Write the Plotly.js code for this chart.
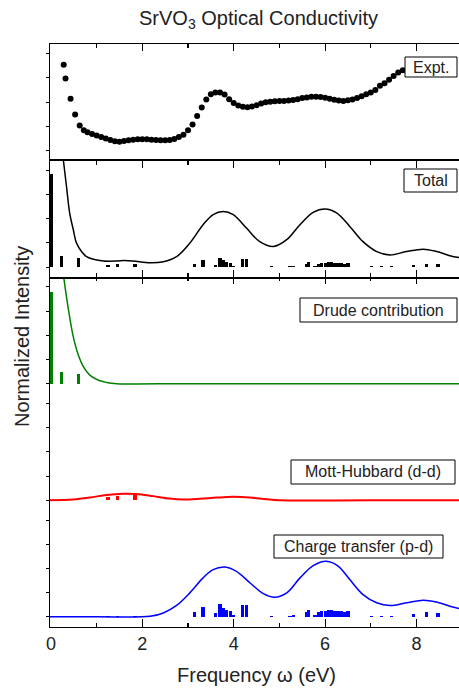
<!DOCTYPE html>
<html>
<head>
<meta charset="utf-8">
<script src="https://cdn.plot.ly/plotly-3.0.1.min.js"></script>
<style>html,body{margin:0;padding:0;background:#fff}#plot{width:459px;height:690px}</style>
</head>
<body>
<div id="plot"></div>
<script>
// ---------- data ----------
// Experimental optical conductivity (dots)
const exptX = [0.28,0.32,0.43,0.53,0.63,0.72,0.8,0.9,1.0,1.1,1.2,1.3,1.4,1.5,1.6,1.7,1.8,1.9,2.0,2.1,2.2,2.3,2.4,2.5,2.6,2.7,2.8,2.9,3.0,3.1,3.2,3.3,3.4,3.5,3.6,3.7,3.8,3.9,4.0,4.1,4.2,4.3,4.4,4.5,4.6,4.7,4.8,4.9,5.0,5.1,5.2,5.3,5.4,5.5,5.6,5.7,5.8,5.9,6.0,6.1,6.2,6.3,6.4,6.5,6.6,6.7,6.8,6.9,7.0,7.1,7.2,7.3,7.4,7.5,7.6,7.7];
const exptY = [3.54,2.97,2.14,1.49,1.03,0.83,0.75,0.68,0.62,0.56,0.49,0.43,0.38,0.36,0.39,0.42,0.44,0.46,0.46,0.46,0.44,0.43,0.42,0.42,0.43,0.47,0.56,0.65,0.83,1.07,1.42,1.78,2.11,2.32,2.40,2.39,2.31,2.12,1.96,1.86,1.81,1.79,1.82,1.87,1.94,1.99,2.01,2.03,2.04,2.04,2.06,2.08,2.12,2.17,2.19,2.22,2.22,2.21,2.18,2.14,2.10,2.06,2.04,2.07,2.11,2.17,2.24,2.32,2.40,2.50,2.67,2.78,2.92,3.08,3.22,3.32];

// Total calculated spectrum
const totalX = [0.22,0.27,0.34,0.41,0.49,0.56,0.67,0.78,0.93,1.15,1.44,1.6,1.8,2.17,2.46,2.75,3.04,3.33,3.55,3.77,3.99,4.28,4.57,4.87,5.16,5.45,5.74,6.0,6.25,6.54,6.83,7.13,7.42,7.78,8.15,8.44,8.73,8.93];
const totalY = [5.4,4.46,3.35,2.24,1.54,0.99,0.64,0.43,0.32,0.25,0.25,0.27,0.25,0.18,0.22,0.43,0.99,1.75,2.17,2.30,2.17,1.61,1.05,0.85,1.13,1.75,2.26,2.40,2.24,1.68,1.05,0.64,0.50,0.64,0.74,0.64,0.47,0.39];

// Drude contribution
const drudeX = [0.22,0.28,0.38,0.49,0.6,0.71,0.85,1.04,1.22,1.44,3.0,6.0,8.93];
const drudeY = [5.3,4.4,3.10,1.93,1.18,0.70,0.35,0.14,0.05,0.0,0.0,0.0,0.0];

// Mott-Hubbard (d-d)
const mhX = [-0.02,0.49,0.85,1.22,1.58,1.87,2.24,2.6,2.9,3.26,3.63,3.99,4.36,4.72,5.01,7.0,8.93];
const mhY = [0.0,0.03,0.11,0.22,0.27,0.26,0.17,0.07,0.03,0.06,0.11,0.14,0.11,0.04,0.0,0.0,0.0];

// Charge transfer (p-d)
const ctX = [-0.02,1.0,2.17,2.46,2.75,3.04,3.33,3.55,3.81,4.06,4.36,4.65,4.90,5.16,5.45,5.74,6.03,6.29,6.54,6.83,7.13,7.42,7.78,8.15,8.44,8.73,8.93];
const ctY = [0.0,0.0,0.02,0.16,0.47,0.99,1.61,1.95,2.06,1.88,1.40,0.96,0.81,0.99,1.61,2.12,2.30,2.09,1.54,0.92,0.58,0.47,0.58,0.69,0.61,0.44,0.34];

// transition sticks
const drudeStickE = [0.01,0.23,0.6];
const drudeStickH = [3.79,0.47,0.39];
const totalDrudeStickH = [3.83,0.45,0.36];
const mhStickE = [1.25,1.46,1.84];
const mhStickH = [0.14,0.18,0.20];
const totalMhStickH = [0.10,0.12,0.12];
const ctMhStickH = [0.04,0.04,0.04];
const ctStickE = [3.14,3.33,3.61,3.70,3.77,3.84,3.93,3.99,4.19,4.28,4.83,5.23,5.30,5.59,5.63,5.78,5.85,5.92,6.00,6.07,6.14,6.21,6.28,6.35,6.43,6.50,7.02,7.24,7.46,7.93,8.22,8.47];
const totalCtStickH = [0.14,0.30,0.10,0.375,0.28,0.22,0.17,0.05,0.35,0.35,0.04,0.04,0.05,0.14,0.20,0.05,0.14,0.17,0.17,0.20,0.20,0.17,0.17,0.17,0.14,0.17,0.03,0.03,0.03,0.08,0.14,0.11];
const ctStickH = [0.19,0.41,0.14,0.51,0.38,0.30,0.23,0.07,0.48,0.48,0.05,0.05,0.07,0.19,0.27,0.07,0.19,0.23,0.23,0.27,0.27,0.23,0.23,0.23,0.19,0.23,0.04,0.04,0.04,0.11,0.19,0.15];

const xTickVals = [0,2,4,6,8];
const xTickText = ['0','2','4','6','8'];
const panelLabels = ['Expt.','Total','Drude contribution','Mott-Hubbard (d-d)','Charge transfer (p-d)'];

// ---------- styling ----------
const FONT = 'Liberation Sans, Arial, sans-serif';
const BLACK = '#000000', GREEN = '#008000', RED = '#ff0000', BLUE = '#0000ff';
const L = 50, T = 44, W = 409, H = 583;
const px2x = p => (p - L) / W;
const px2y = p => (T + H - p) / H;

function sticks(x, y, color, xa, ya, w) {
  return {type:'bar', x:x, y:y, base:0, width:w || 0.07, xaxis:xa, yaxis:ya,
    marker:{color:color, line:{width:0}}, hoverinfo:'skip'};
}
function curve(x, y, color, xa, ya, lw) {
  return {type:'scatter', mode:'lines', x:x, y:y, xaxis:xa, yaxis:ya,
    line:{color:color, width:lw || 1.5, shape:'spline', smoothing:1}, hoverinfo:'skip'};
}

const data = [
  {type:'scatter', mode:'markers', x:exptX, y:exptY, xaxis:'x4', yaxis:'y5',
   marker:{color:BLACK, size:6}, hoverinfo:'skip'},
  sticks([drudeStickE[0]], [totalDrudeStickH[0]], BLACK, 'x3', 'y4', 0.09),
  sticks(drudeStickE.slice(1), totalDrudeStickH.slice(1), BLACK, 'x3', 'y4'),
  sticks(mhStickE, totalMhStickH, BLACK, 'x3', 'y4'),
  sticks(ctStickE, totalCtStickH, BLACK, 'x3', 'y4'),
  curve(totalX, totalY, BLACK, 'x3', 'y4', 1.5),
  sticks([drudeStickE[0]], [drudeStickH[0]], GREEN, 'x2', 'y3', 0.09),
  sticks(drudeStickE.slice(1), drudeStickH.slice(1), GREEN, 'x2', 'y3'),
  curve(drudeX, drudeY, GREEN, 'x2', 'y3', 1.5),
  sticks(mhStickE, mhStickH, RED, 'x', 'y2'),
  curve(mhX, mhY, RED, 'x', 'y2', 2),
  sticks(mhStickE, ctMhStickH, BLUE, 'x', 'y'),
  sticks(ctStickE, ctStickH, BLUE, 'x', 'y'),
  curve(ctX, ctY, BLUE, 'x', 'y', 1.5)
];

const XR = [-0.02, 8.93];
const YR = [-0.42, 4.4];
const minor = {dtick:1, tick0:0, ticklen:4, ticks:'inside', tickcolor:BLACK, tickwidth:1.2};
function xax(extra) {
  return Object.assign({range:XR, showgrid:false, zeroline:false, showline:true, linecolor:BLACK,
    linewidth:1.3, ticks:'inside', ticklen:7, tickwidth:1.2, tickcolor:BLACK,
    tickvals:xTickVals, ticktext:xTickText, showticklabels:false, minor:minor, fixedrange:true}, extra);
}
function yax(d0, d1) {
  return {domain:[d0, d1], range:YR, anchor:'x', showgrid:false, zeroline:false, showline:true,
    linecolor:BLACK, linewidth:1.3, ticks:'outside', ticklen:3, tickwidth:1, tickcolor:BLACK,
    tickmode:'linear', tick0:0, dtick:1, showticklabels:false, fixedrange:true};
}

const boxes = [
  [405,457,57,77],[404,457,169,192],[300,457,298,322],[291,455,460,484],[274,443,535,558]
];
const shapes = boxes.map(b => ({type:'rect', xref:'paper', yref:'paper',
  x0:px2x(b[0]), x1:px2x(b[1]), y0:px2y(b[3]), y1:px2y(b[2]),
  line:{color:BLACK, width:1}, fillcolor:'#ffffff', layer:'above'}));
const annotations = panelLabels.map((t,i) => ({text:t, xref:'paper', yref:'paper',
  x:px2x((boxes[i][0]+boxes[i][1])/2), y:px2y((boxes[i][2]+boxes[i][3])/2),
  xanchor:'center', yanchor:'middle', showarrow:false, font:{family:FONT, size:16, color:'#222'}}));
annotations.push({text:'Frequency ω (eV)', xref:'paper', yref:'paper', x:px2x(256), y:px2y(675),
  xanchor:'center', yanchor:'middle', showarrow:false, font:{family:FONT, size:20, color:'#222'}});
annotations.push({text:'Normalized Intensity', xref:'paper', yref:'paper', x:px2x(22), y:px2y(337),
  xanchor:'center', yanchor:'middle', textangle:-90, showarrow:false, font:{family:FONT, size:20, color:'#222'}});

const layout = {
  width:459, height:690,
  margin:{l:L, r:0, t:T, b:690-T-H, pad:0},
  paper_bgcolor:'#ffffff', plot_bgcolor:'#ffffff',
  showlegend:false, barmode:'overlay', bargap:0,
  font:{family:FONT, color:'#222'},
  title:{text:'SrVO<sub>3</sub> Optical Conductivity', x:px2x(258.5), xref:'paper', xanchor:'center',
    y:1-18/690, yref:'container', yanchor:'middle', font:{family:FONT, size:20, color:'#222'}},
  // bottom axis with labels (Charge transfer panel)
  xaxis: xax({anchor:'y', showticklabels:true, ticklen:8, tickfont:{family:FONT, size:18, color:'#222'}}),
  // ticks pointing down into Drude panel (no extra line)
  xaxis2: xax({anchor:'y3', side:'top', showline:false}),
  // Total panel: lines at both edges
  xaxis3: xax({anchor:'y4', mirror:'ticks'}),
  // Expt panel: top line with ticks down
  xaxis4: xax({anchor:'y5', side:'top'}),
  // Expt panel: ticks up from the shared boundary (no extra line)
  xaxis5: xax({anchor:'y5', side:'bottom', showline:false}),
  yaxis: yax(0, 0.2),
  yaxis2: yax(0.2, 0.4),
  yaxis3: yax(0.4, 0.6),
  yaxis4: yax(0.6, 0.8),
  yaxis5: yax(0.8, 1.0),
  shapes: shapes,
  annotations: annotations
};

Plotly.newPlot('plot', data, layout, {staticPlot:true, displayModeBar:false});
</script>
</body>
</html>
